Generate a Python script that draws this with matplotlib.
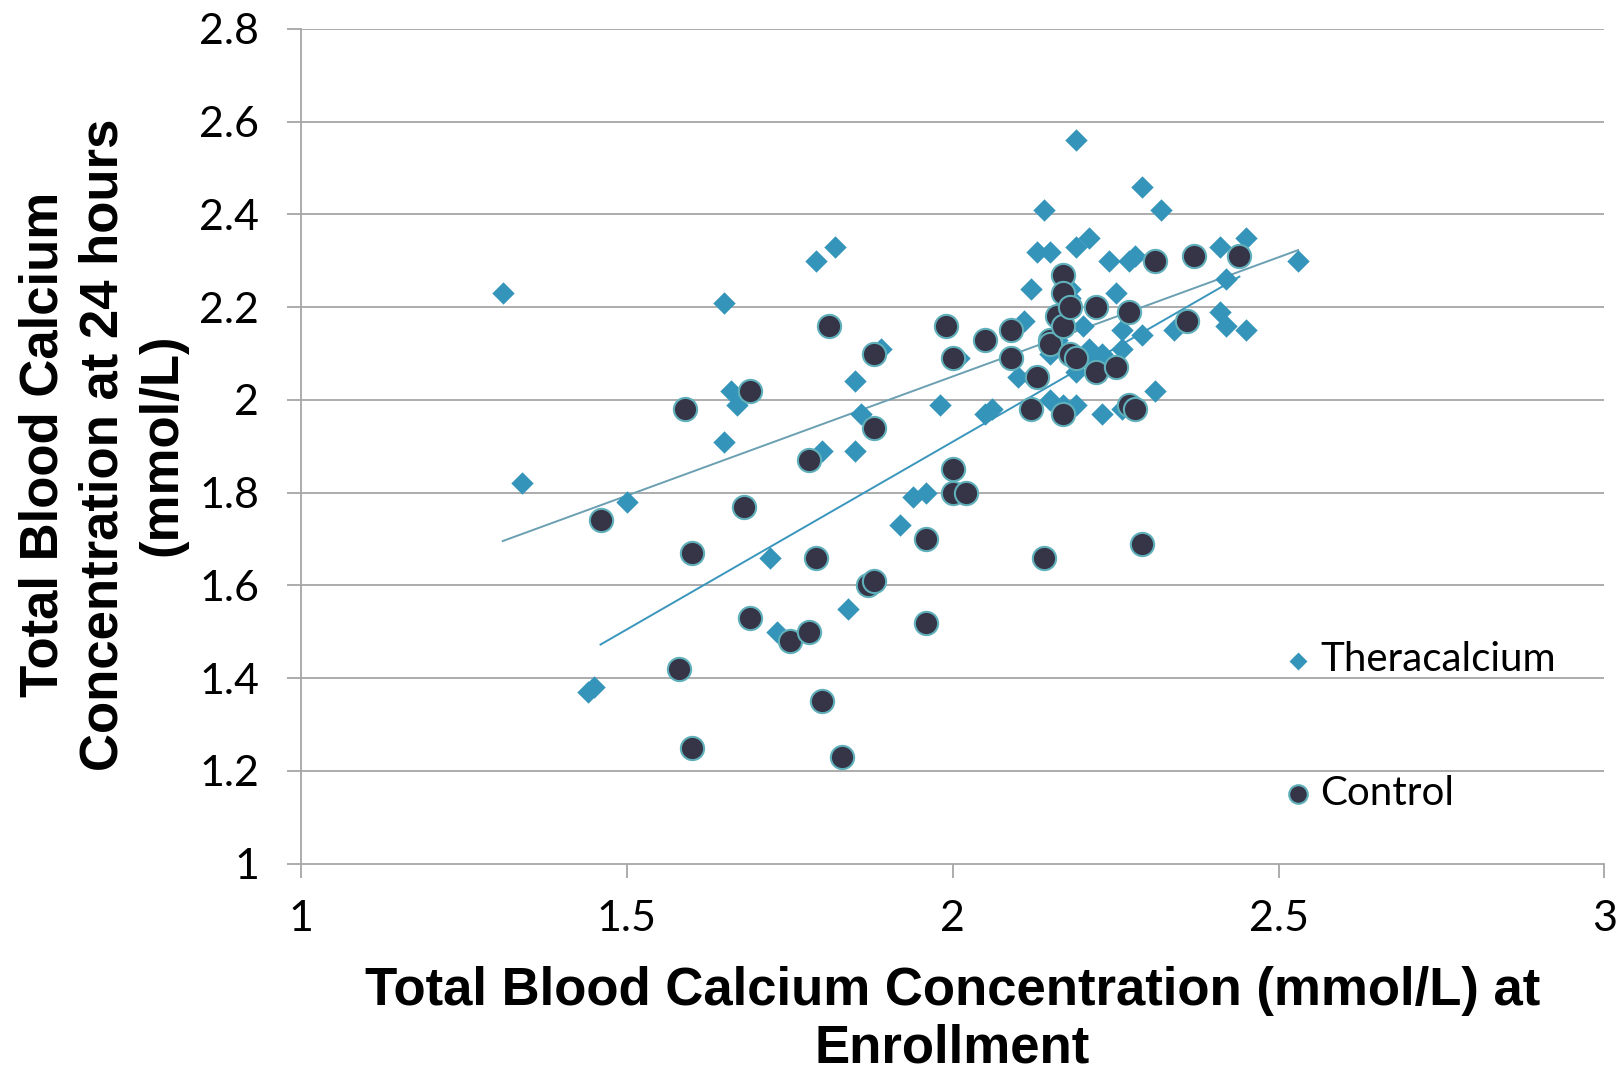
import numpy as np
import matplotlib
matplotlib.use("Agg")
import matplotlib.pyplot as plt

# Theracalcium (diamonds)
thera_x = [1.31, 1.34, 1.44, 1.45, 1.50, 1.65, 1.65, 1.66, 1.67, 1.72, 1.73, 1.79, 1.80, 1.82,
           1.84, 1.85, 1.85, 1.86, 1.89, 1.92, 1.94, 1.96, 1.98, 2.01, 2.05, 2.06, 2.10, 2.11,
           2.12, 2.12, 2.13, 2.14, 2.15, 2.15, 2.16, 2.15, 2.17, 2.18, 2.18, 2.19, 2.19, 2.19,
           2.19, 2.20, 2.21, 2.21, 2.22, 2.23, 2.23, 2.24, 2.25, 2.26, 2.26, 2.26, 2.27, 2.28,
           2.29, 2.29, 2.31, 2.32, 2.34, 2.41, 2.41, 2.42, 2.42, 2.45, 2.45, 2.53]
thera_y = [2.23, 1.82, 1.37, 1.38, 1.78, 2.21, 1.91, 2.02, 1.99, 1.66, 1.50, 2.30, 1.89, 2.33,
           1.55, 2.04, 1.89, 1.97, 2.11, 1.73, 1.79, 1.80, 1.99, 2.09, 1.97, 1.98, 2.05, 2.17,
           2.24, 2.05, 2.32, 2.41, 2.32, 2.00, 2.13, 2.10, 1.99, 2.24, 2.22, 2.56, 2.33, 2.06,
           1.99, 2.16, 2.11, 2.35, 2.08, 1.97, 2.10, 2.30, 2.23, 2.15, 2.11, 1.98, 2.30, 2.31,
           2.46, 2.14, 2.02, 2.41, 2.15, 2.33, 2.19, 2.26, 2.16, 2.35, 2.15, 2.30]

# Control (circles)
ctrl_x = [1.46, 1.58, 1.59, 1.60, 1.60, 1.68, 1.69, 1.69, 1.75, 1.78, 1.78, 1.79, 1.80, 1.81,
          1.83, 1.87, 1.88, 1.88, 1.88, 1.96, 1.96, 1.99, 2.00, 2.00, 2.00, 2.02, 2.05, 2.09,
          2.09, 2.12, 2.13, 2.14, 2.15, 2.15, 2.16, 2.17, 2.17, 2.17, 2.17, 2.18, 2.18, 2.19,
          2.22, 2.22, 2.25, 2.27, 2.27, 2.28, 2.29, 2.31, 2.36, 2.37, 2.44]
ctrl_y = [1.74, 1.42, 1.98, 1.67, 1.25, 1.77, 2.02, 1.53, 1.48, 1.87, 1.50, 1.66, 1.35, 2.16,
          1.23, 1.60, 1.61, 2.10, 1.94, 1.70, 1.52, 2.16, 2.09, 1.85, 1.80, 1.80, 2.13, 2.15,
          2.09, 1.98, 2.05, 1.66, 2.13, 2.12, 2.18, 2.27, 2.23, 2.16, 1.97, 2.10, 2.20, 2.09,
          2.20, 2.06, 2.07, 2.19, 1.99, 1.98, 1.69, 2.30, 2.17, 2.31, 2.31]

x_ticks = [1, 1.5, 2, 2.5, 3]
x_labels = ["1", "1.5", "2", "2.5", "3"]
y_ticks = [1, 1.2, 1.4, 1.6, 1.8, 2, 2.2, 2.4, 2.6, 2.8]
y_labels = ["1", "1.2", "1.4", "1.6", "1.8", "2", "2.2", "2.4", "2.6", "2.8"]

thera_col = "#3494ba"
ctrl_col = "#363548"
edge_col = "#5fb0ba"

fig = plt.figure(figsize=(16.2, 10.71), dpi=100)
ax = fig.add_axes([0.1856, 0.1936, 0.8048, 0.7794])

ax.set_xlim(1, 3)
ax.set_ylim(1, 2.8)
for yv in y_ticks[1:]:
    ax.axhline(yv, color="#a6a6a6", lw=1.3, zorder=0)

# linear trend lines
tx = np.array([min(thera_x), max(thera_x)])
a, b = np.polyfit(thera_x, thera_y, 1)
ax.plot(tx, a * tx + b, color="#6b9fb2", lw=1.4, zorder=1)
cx = np.array([min(ctrl_x), max(ctrl_x)])
a2, b2 = np.polyfit(ctrl_x, ctrl_y, 1)
ax.plot(cx, a2 * cx + b2, color="#3a96bd", lw=1.4, zorder=1)

ax.scatter(thera_x, thera_y, marker="D", s=130, color=thera_col, linewidths=0,
           zorder=3, label="Theracalcium")
ax.scatter(ctrl_x, ctrl_y, marker="o", s=280, color=ctrl_col, edgecolors=edge_col,
           linewidths=1.5, zorder=4, label="Control")

ax.set_xticks(x_ticks)
ax.set_xticklabels(x_labels)
ax.set_yticks(y_ticks)
ax.set_yticklabels(y_labels)
for s in ["top", "right"]:
    ax.spines[s].set_visible(False)
for s in ["left", "bottom"]:
    ax.spines[s].set_color("#a6a6a6")
    ax.spines[s].set_linewidth(1.3)
ax.tick_params(axis="both", which="major", labelsize=31, color="#a6a6a6",
               length=10, width=1.3, direction="out")
ax.tick_params(axis="x", pad=16)
ax.tick_params(axis="y", pad=20)
for t in ax.get_xticklabels() + ax.get_yticklabels():
    t.set_fontfamily("Lato")

fig.text(0.588, 0.048, "Total Blood Calcium Concentration (mmol/L) at\nEnrollment",
         fontsize=38, fontweight="bold", fontfamily="Liberation Sans",
         ha="center", va="center", multialignment="center", linespacing=1.19)
fig.text(0.0636, 0.585, "Total Blood Calcium\nConcentration at 24 hours\n(mmol/L)",
         fontsize=38, fontweight="bold", fontfamily="Liberation Sans", rotation=90,
         ha="center", va="center", multialignment="center", linespacing=1.25)

leg = ax.legend(loc="upper left", bbox_to_anchor=(0.756, 0.2665), frameon=False,
                prop={"family": "Lato", "size": 29}, labelspacing=2.4,
                handlelength=0.6, handletextpad=0.25, markerscale=0.8,
                borderpad=0, borderaxespad=0)

fig.savefig("out.png", dpi=100)
